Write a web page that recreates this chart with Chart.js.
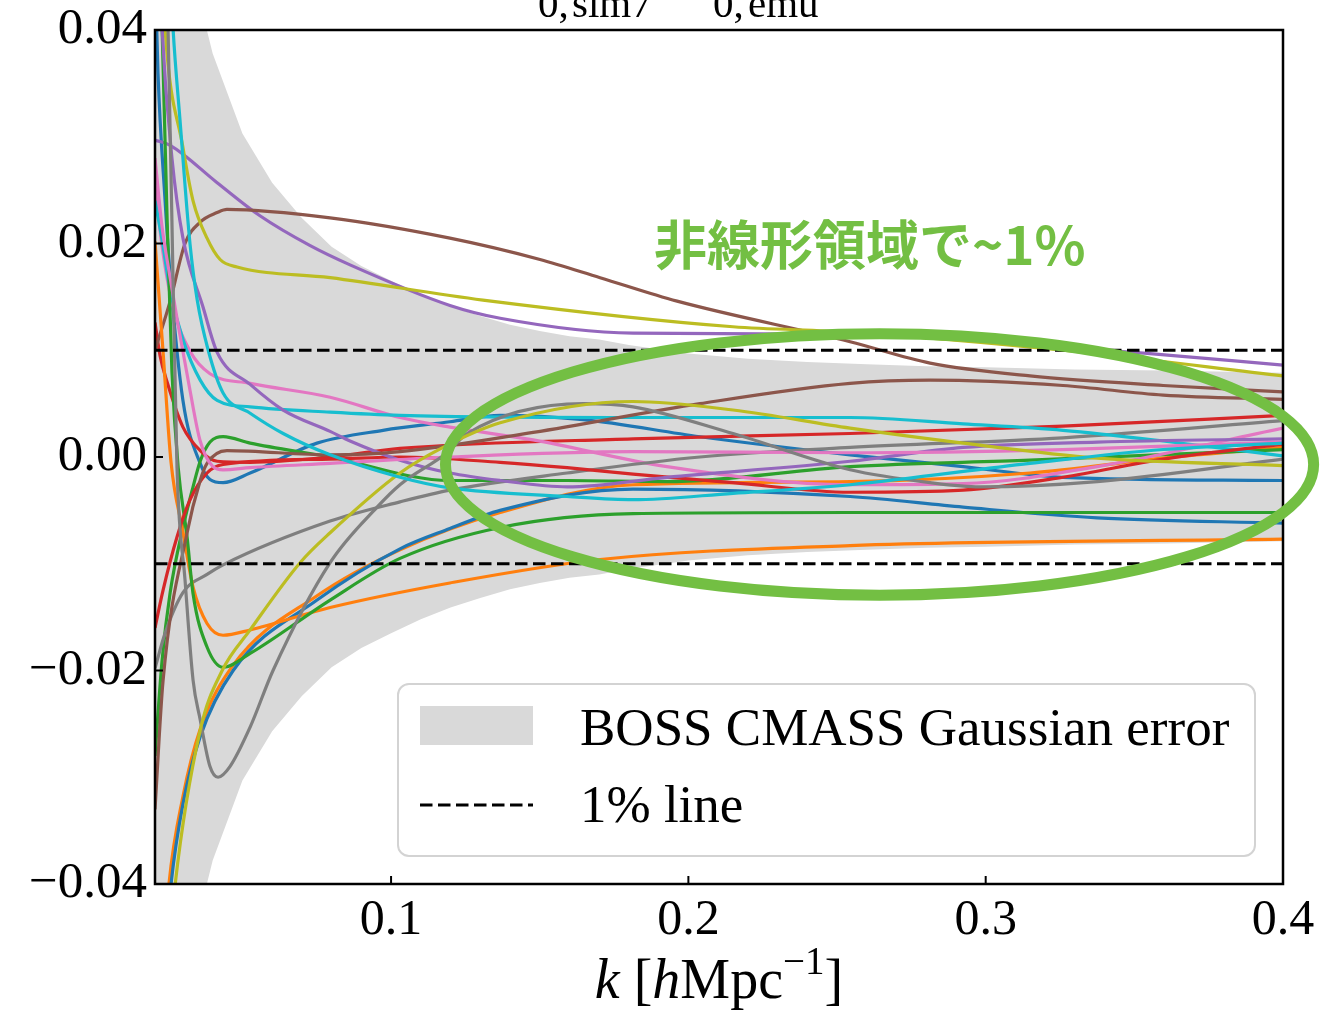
<!DOCTYPE html>
<html>
<head>
<meta charset="utf-8">
<script src="https://cdn.jsdelivr.net/npm/chart.js@4.4.1/dist/chart.umd.min.js"></script>
<style>
html, body { margin: 0; padding: 0; background: #fff; }
canvas { display: block; }
</style>
</head>
<body>
<canvas id="c" width="1321" height="1011"></canvas>
<script>
// axis range and ticks
const kMin = 0.0206, kMax = 0.4;
const kTicks = [0.1, 0.2, 0.3, 0.4];
const ratioTicks = [-0.04, -0.02, 0, 0.02, 0.04];
const onePercent = 0.01;

// BOSS CMASS Gaussian error (1 sigma, symmetric)
const bandK = [0.02, 0.03, 0.04, 0.05, 0.06, 0.07, 0.08, 0.09, 0.10, 0.11, 0.12, 0.13, 0.14, 0.15, 0.16, 0.17, 0.18, 0.19, 0.20, 0.22, 0.24, 0.26, 0.28, 0.30, 0.33, 0.36, 0.40];
const bandSigma = [0.075, 0.049, 0.0378, 0.0303, 0.0257, 0.0224, 0.0197, 0.0179, 0.0165, 0.0152, 0.0141, 0.0132, 0.0124, 0.0118, 0.0113, 0.0110, 0.0105, 0.0101, 0.0097, 0.0092, 0.0089, 0.0087, 0.0085, 0.0084, 0.0082, 0.0081, 0.0079];

// P0,sim / P0,emu - 1 for each simulation
const blue1K = [0.0206, 0.0216, 0.0240, 0.0257, 0.0300, 0.0358, 0.0391, 0.0435, 0.0526, 0.0751, 0.0973, 0.1198, 0.1367, 0.1646, 0.2039, 0.2544, 0.2924, 0.3260, 0.4000];
const blue1V = [0.046, 0.036, 0.024, 0.0170, 0.0053, -0.0006, -0.0021, -0.0024, -0.0015, 0.0013, 0.0025, 0.0033, 0.0039, 0.0035, 0.0019, 0.0002, -0.0009, -0.0019, -0.0022];
const orange1K = [0.0206, 0.0253, 0.0300, 0.0358, 0.0469, 0.0751, 0.1030, 0.1367, 0.1814, 0.2544, 0.3149, 0.3597, 0.4000];
const orange1V = [-0.058, -0.040, -0.0318, -0.0255, -0.0195, -0.0130, -0.0087, -0.0052, -0.0026, -0.0023, -0.0015, -0.0001, 0.0009];
const green1K = [0.0206, 0.0230, 0.0257, 0.0300, 0.0334, 0.0358, 0.0391, 0.0435, 0.0526, 0.0795, 0.1198, 0.1592, 0.1928, 0.2544, 0.3149, 0.4000];
const green1V = [-0.028, -0.019, -0.0127, -0.0066, -0.0028, -0.0004, 0.0014, 0.0019, 0.0013, 0.0000, -0.0022, -0.0022, -0.0023, -0.0009, -0.0003, 0.0007];
const red1K = [0.0206, 0.0223, 0.0247, 0.0300, 0.0358, 0.0415, 0.0526, 0.0795, 0.1030, 0.1814, 0.2544, 0.3260, 0.4000];
const red1V = [0.0126, 0.0095, 0.0070, 0.0028, 0.0006, -0.0004, -0.0005, 0.0000, 0.0008, 0.0017, 0.0022, 0.0029, 0.0039];
const purple1K = [0.0206, 0.0257, 0.0415, 0.0559, 0.0728, 0.0862, 0.1198, 0.1367, 0.1814, 0.2544, 0.3049, 0.3543, 0.4000];
const purple1V = [0.0297, 0.0292, 0.0257, 0.0226, 0.0198, 0.0180, 0.0142, 0.0130, 0.0116, 0.0115, 0.0107, 0.0097, 0.0086];
const brown1K = [0.0206, 0.0257, 0.0307, 0.0358, 0.0415, 0.0448, 0.0795, 0.1198, 0.1501, 0.1703, 0.1962, 0.2544, 0.2813, 0.3149, 0.3597, 0.4000];
const brown1V = [0.0100, 0.0146, 0.0200, 0.0220, 0.0229, 0.0232, 0.0224, 0.0205, 0.0185, 0.0168, 0.0146, 0.0108, 0.0088, 0.0076, 0.0067, 0.0061];
const pink1K = [0.0206, 0.0230, 0.0267, 0.0324, 0.0391, 0.0526, 0.0795, 0.1030, 0.1198, 0.1478, 0.1928, 0.2544, 0.2924, 0.3375, 0.4000];
const pink1V = [0.0254, 0.0197, 0.0140, 0.0099, 0.0078, 0.0069, 0.0056, 0.0037, 0.0028, 0.0016, -0.0009, -0.0026, -0.0025, -0.0009, 0.0027];
const gray1K = [0.0206, 0.0240, 0.0300, 0.0381, 0.0435, 0.0795, 0.1030, 0.1198, 0.1592, 0.2039, 0.2544, 0.3260, 0.4000];
const gray1V = [-0.0198, -0.0165, -0.0127, -0.0110, -0.0101, -0.0060, -0.0042, -0.0031, -0.0015, 0.0000, 0.0009, 0.0018, 0.0034];
const olive1K = [0.0206, 0.0240, 0.0300, 0.0334, 0.0381, 0.0425, 0.0482, 0.0795, 0.1309, 0.2150, 0.2544, 0.3260, 0.4000];
const olive1V = [0.060, 0.040, 0.0290, 0.0240, 0.0205, 0.0185, 0.0178, 0.0168, 0.0147, 0.0122, 0.0117, 0.0100, 0.0076];
const cyan1K = [0.0206, 0.0230, 0.0257, 0.0300, 0.0358, 0.0415, 0.0526, 0.0795, 0.1030, 0.1814, 0.2544, 0.2924, 0.3260, 0.3597, 0.4000];
const cyan1V = [0.0240, 0.0203, 0.0156, 0.0110, 0.0072, 0.0053, 0.0047, 0.0042, 0.0039, 0.0037, 0.0037, 0.0031, 0.0025, 0.0015, 0.0001];

const blue2K = [0.0206, 0.0260, 0.0300, 0.0358, 0.0469, 0.0751, 0.1030, 0.1198, 0.1367, 0.1814, 0.2544, 0.2924, 0.3375, 0.4000];
const blue2V = [-0.058, -0.040, -0.0325, -0.0262, -0.0200, -0.0134, -0.0086, -0.0067, -0.0050, -0.0030, -0.0037, -0.0047, -0.0057, -0.0062];
const orange2K = [0.0206, 0.0233, 0.0260, 0.0300, 0.0334, 0.0381, 0.0435, 0.0526, 0.0795, 0.1198, 0.1703, 0.2544, 0.4000];
const orange2V = [0.0202, 0.0099, -0.0005, -0.0070, -0.0122, -0.0156, -0.0167, -0.0162, -0.0141, -0.0118, -0.0096, -0.0083, -0.0077];
const green2K = [0.0206, 0.0230, 0.0247, 0.0263, 0.0284, 0.0314, 0.0334, 0.0381, 0.0435, 0.0526, 0.0795, 0.1030, 0.1367, 0.1814, 0.2544, 0.4000];
const green2V = [0.070, 0.040, 0.022, 0.008, -0.001, -0.0075, -0.0128, -0.0178, -0.0197, -0.0184, -0.0134, -0.0095, -0.0066, -0.0053, -0.0052, -0.0052];
const red2K = [0.0206, 0.0233, 0.0280, 0.0324, 0.0381, 0.0435, 0.0795, 0.1030, 0.1367, 0.1592, 0.1814, 0.2150, 0.2544, 0.2924, 0.3260, 0.3597, 0.4000];
const red2V = [-0.0160, -0.0125, -0.0075, -0.0040, -0.0015, -0.0007, -0.0002, 0.0000, -0.0005, -0.0010, -0.0016, -0.0024, -0.0033, -0.0031, -0.0019, -0.0002, 0.0012];
const purple2K = [0.0206, 0.0230, 0.0263, 0.0300, 0.0368, 0.0415, 0.0526, 0.0637, 0.0795, 0.0862, 0.1030, 0.1198, 0.1367, 0.1592, 0.1928, 0.2544, 0.2924, 0.3375, 0.4000];
const purple2V = [0.058, 0.040, 0.028, 0.0205, 0.0140, 0.0098, 0.0068, 0.0044, 0.0024, 0.0015, -0.0003, -0.0015, -0.0022, -0.0028, -0.0019, -0.0004, 0.0009, 0.0014, 0.0017];
const brown2K = [0.0206, 0.0233, 0.0314, 0.0358, 0.0381, 0.0448, 0.0795, 0.1030, 0.1478, 0.2039, 0.2544, 0.2813, 0.3260, 0.3597, 0.4000];
const brown2V = [-0.033, -0.021, -0.0071, -0.0022, -0.0006, 0.0006, 0.0002, 0.0005, 0.0023, 0.0050, 0.0069, 0.0072, 0.0067, 0.0058, 0.0054];
const pink2K = [0.0206, 0.0230, 0.0247, 0.0324, 0.0358, 0.0401, 0.0435, 0.0526, 0.0795, 0.1198, 0.1814, 0.2544, 0.3260, 0.4000];
const pink2V = [0.0280, 0.0215, 0.0184, 0.0062, 0.0015, -0.0009, -0.0012, -0.0010, -0.0006, 0.0000, 0.0005, 0.0004, 0.0007, 0.0014];
const gray2K = [0.0206, 0.0250, 0.0263, 0.0280, 0.0307, 0.0334, 0.0358, 0.0391, 0.0418, 0.0458, 0.0526, 0.0603, 0.0795, 0.0953, 0.1030, 0.1188, 0.1256, 0.1646, 0.1814, 0.2150, 0.2544, 0.2813, 0.2981, 0.3375, 0.4000];
const gray2V = [0.095, 0.040, 0.022, -0.001, -0.0115, -0.0209, -0.0246, -0.0290, -0.0300, -0.0290, -0.0253, -0.0200, -0.0099, -0.0047, -0.0026, 0.0004, 0.0022, 0.0050, 0.0047, 0.0022, -0.0012, -0.0024, -0.0028, -0.0023, -0.0002];
const olive2K = [0.0206, 0.0274, 0.0358, 0.0432, 0.0526, 0.0694, 0.0795, 0.1030, 0.1175, 0.1367, 0.1814, 0.2150, 0.2544, 0.2924, 0.3375, 0.4000];
const olive2V = [-0.062, -0.040, -0.0256, -0.0200, -0.0162, -0.0099, -0.0071, -0.0015, 0.0009, 0.0032, 0.0052, 0.0044, 0.0027, 0.0013, -0.0001, -0.0008];
const cyan2K = [0.0206, 0.0267, 0.0290, 0.0324, 0.0348, 0.0385, 0.0435, 0.0526, 0.0637, 0.0795, 0.1030, 0.1198, 0.1592, 0.1814, 0.2150, 0.2544, 0.3149, 0.3597, 0.4000];
const cyan2V = [0.075, 0.040, 0.0316, 0.0199, 0.0147, 0.0100, 0.0060, 0.0041, 0.0022, 0.0002, -0.0019, -0.0029, -0.0037, -0.0040, -0.0034, -0.0026, -0.0006, 0.0007, 0.0013];

// highlighted region (ellipse centre and half-axes, in data units) and its note
const noteText = '非線形領域で~1%';
const noteK = 0.2610, noteV = 0.0199;
const ellipseK = 0.2643, ellipseV = -0.0007;
const ellipseHalfK = 0.1460, ellipseHalfV = 0.01224;

const legendLabels = ['BOSS CMASS Gaussian error', '1% line'];

const tab10 = ['#1f77b4', '#ff7f0e', '#2ca02c', '#d62728', '#9467bd', '#8c564b', '#e377c2', '#7f7f7f', '#bcbd22', '#17becf'];
const curves = [
  [blue1K, blue1V], [orange1K, orange1V], [green1K, green1V], [red1K, red1V], [purple1K, purple1V],
  [brown1K, brown1V], [pink1K, pink1V], [gray1K, gray1V], [olive1K, olive1V], [cyan1K, cyan1V],
  [blue2K, blue2V], [orange2K, orange2V], [green2K, green2V], [red2K, red2V], [purple2K, purple2V],
  [brown2K, brown2V], [pink2K, pink2V], [gray2K, gray2V], [olive2K, olive2V], [cyan2K, cyan2V]
];

const BAND = '#d9d9d9';
const DASH = [12.5, 5.5];
const SERIF = "'Liberation Serif', 'Times New Roman', serif";

const datasets = [];
datasets.push({
  data: bandK.map((k, i) => ({ x: k, y: bandSigma[i] })),
  fill: '+1', backgroundColor: BAND, borderColor: 'rgba(0,0,0,0)', borderWidth: 0,
  pointRadius: 0, tension: 0, order: 500
});
datasets.push({
  data: bandK.map((k, i) => ({ x: k, y: -bandSigma[i] })),
  fill: false, borderColor: 'rgba(0,0,0,0)', borderWidth: 0,
  pointRadius: 0, tension: 0, order: 501
});
curves.forEach(([ks, vs], i) => {
  datasets.push({
    data: ks.map((k, j) => ({ x: k, y: vs[j] })),
    borderColor: tab10[i % 10], borderWidth: 3.2, fill: false, pointRadius: 0,
    tension: 0.4, cubicInterpolationMode: 'monotone', order: 100 - i
  });
});
[onePercent, -onePercent].forEach(level => {
  datasets.push({
    data: [{ x: kMin, y: level }, { x: kMax, y: level }],
    borderColor: '#000', borderWidth: 3, borderDash: DASH, fill: false,
    pointRadius: 0, tension: 0, order: -10
  });
});

function fmtRatio(v) {
  if (Math.abs(v) < 1e-9) return '0.00';
  return (v < 0 ? '\u2212' : '') + Math.abs(v).toFixed(2);
}

const decor = {
  id: 'decor',
  afterDatasetsDraw(chart) {
    const { ctx, chartArea: a, scales: { x, y } } = chart;
    ctx.save();
    ctx.strokeStyle = '#000';
    ctx.lineWidth = 2;
    ctx.setLineDash([]);
    kTicks.forEach(v => {
      const px = x.getPixelForValue(v);
      ctx.beginPath(); ctx.moveTo(px, a.bottom); ctx.lineTo(px, a.bottom - 8); ctx.stroke();
    });
    ratioTicks.forEach(v => {
      const py = y.getPixelForValue(v);
      ctx.beginPath(); ctx.moveTo(a.left, py); ctx.lineTo(a.left + 8, py); ctx.stroke();
    });
    ctx.lineWidth = 2.5;
    ctx.strokeRect(a.left, a.top, a.right - a.left, a.bottom - a.top);
    ctx.restore();
  },
  afterDraw(chart) {
    const { ctx, chartArea: a, scales: { x, y } } = chart;
    ctx.save();

    // figure title, only its subscripts fall inside the canvas
    ctx.fillStyle = '#000';
    ctx.font = `41px ${SERIF}`;
    ctx.textAlign = 'left';
    ctx.textBaseline = 'alphabetic';
    ctx.fillText('0,', 538, 17);
    ctx.fillText('sim7', 572, 17);
    ctx.fillText('0,', 713, 17);
    ctx.fillText('emu', 748, 17);

    // x-axis title: k [h Mpc^-1]
    const parts = [
      { t: 'k', f: `italic 56px ${SERIF}`, dy: 0 },
      { t: ' [', f: `56px ${SERIF}`, dy: 0 },
      { t: 'h', f: `italic 56px ${SERIF}`, dy: 0 },
      { t: 'Mpc', f: `56px ${SERIF}`, dy: 0 },
      { t: '\u22121', f: `39px ${SERIF}`, dy: -24 },
      { t: ']', f: `56px ${SERIF}`, dy: 0 }
    ];
    let total = 0;
    parts.forEach(p => { ctx.font = p.f; p.w = ctx.measureText(p.t).width; total += p.w; });
    let cx = (a.left + a.right) / 2 - total / 2;
    const base = 998;
    parts.forEach(p => { ctx.font = p.f; ctx.fillText(p.t, cx, base + p.dy); cx += p.w; });

    // legend
    const lx = 398, ly = 684, lw = 857, lh = 172;
    ctx.beginPath();
    ctx.roundRect(lx, ly, lw, lh, 11);
    ctx.fillStyle = 'rgba(255,255,255,0.8)';
    ctx.fill();
    ctx.lineWidth = 2;
    ctx.strokeStyle = '#d3d3d3';
    ctx.stroke();
    ctx.fillStyle = BAND;
    ctx.fillRect(420, 706, 113, 39);
    ctx.beginPath();
    ctx.setLineDash(DASH);
    ctx.lineWidth = 3;
    ctx.strokeStyle = '#000';
    ctx.moveTo(420, 805); ctx.lineTo(533, 805); ctx.stroke();
    ctx.setLineDash([]);
    ctx.fillStyle = '#000';
    ctx.font = `53px ${SERIF}`;
    ctx.fillText(legendLabels[0], 580, 745);
    ctx.fillText(legendLabels[1], 580, 822);

    // highlighted non-linear region
    const ex = x.getPixelForValue(ellipseK), ey = y.getPixelForValue(ellipseV);
    const rx = x.getPixelForValue(ellipseK + ellipseHalfK) - ex;
    const ry = ey - y.getPixelForValue(ellipseV + ellipseHalfV);
    ctx.beginPath();
    ctx.ellipse(ex, ey, rx, ry, 0, 0, Math.PI * 2);
    ctx.lineWidth = 11;
    ctx.strokeStyle = '#73bf43';
    ctx.stroke();

    ctx.fillStyle = '#73bf43';
    ctx.font = "bold 53px 'Noto Sans CJK JP', sans-serif";
    ctx.textAlign = 'center';
    ctx.textBaseline = 'middle';
    ctx.fillText(noteText, x.getPixelForValue(noteK), y.getPixelForValue(noteV));
    ctx.restore();
  }
};

new Chart(document.getElementById('c'), {
  type: 'line',
  data: { datasets },
  plugins: [decor],
  options: {
    responsive: false,
    animation: false,
    devicePixelRatio: 1,
    layout: { padding: { top: 30, right: 38, left: 0, bottom: 0 } },
    elements: { line: { capBezierPoints: false } },
    plugins: {
      legend: { display: false },
      tooltip: { enabled: false },
      title: { display: false },
      filler: { propagate: false }
    },
    scales: {
      x: {
        type: 'linear', min: kMin, max: kMax,
        grid: { display: false, drawTicks: false },
        border: { display: false },
        afterBuildTicks: s => { s.ticks = kTicks.map(v => ({ value: v })); },
        afterFit: s => { s.height = 127; s.paddingLeft = 0; s.paddingRight = 0; },
        ticks: {
          autoSkip: false, maxRotation: 0, padding: 7, color: '#000',
          font: { family: SERIF, size: 50 },
          callback: v => Number(v).toFixed(1)
        }
      },
      y: {
        type: 'linear', min: -0.04, max: 0.04,
        grid: { display: false, drawTicks: false },
        border: { display: false },
        afterBuildTicks: s => { s.ticks = ratioTicks.map(v => ({ value: v })); },
        afterFit: s => { s.width = 155; s.paddingTop = 0; s.paddingBottom = 0; },
        ticks: {
          autoSkip: false, padding: 8, color: '#000',
          font: { family: SERIF, size: 51 },
          callback: v => fmtRatio(v)
        }
      }
    }
  }
});
</script>
</body>
</html>
